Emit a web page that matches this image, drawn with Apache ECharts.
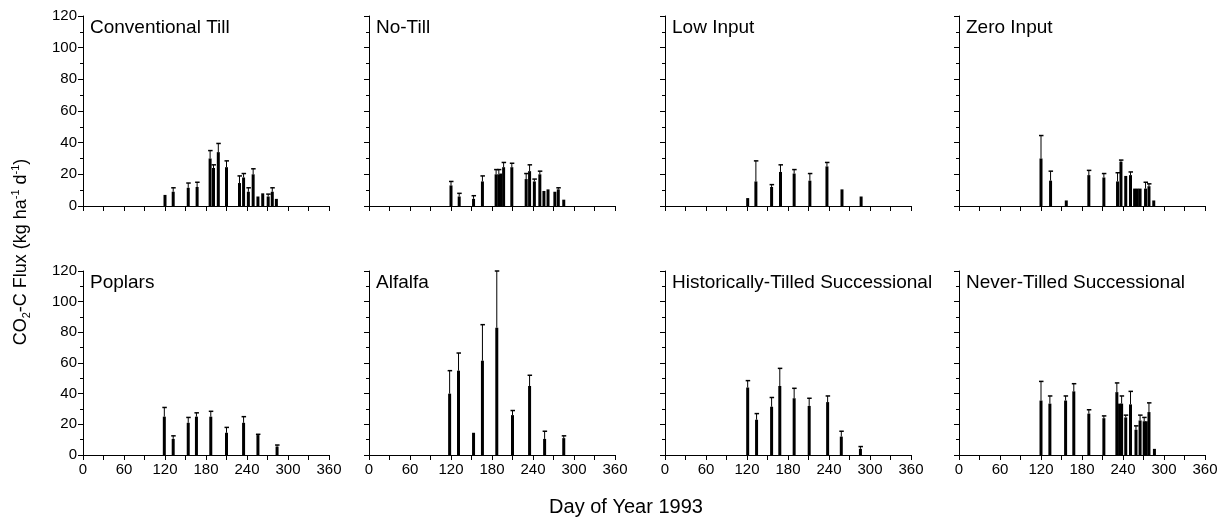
<!DOCTYPE html>
<html>
<head>
    <meta charset="utf-8">
    <script src="https://cdn.jsdelivr.net/npm/echarts@6.0.0/dist/echarts.min.js"></script>
</head>
<body style="margin:0">
    <div id="main" style="width: 1230px;height:519px;"></div>
    <script type="text/javascript">
        var myChart = echarts.init(document.getElementById('main'));

        // 面板标题
        var panelNames = ['Conventional Till', 'No-Till', 'Low Input', 'Zero Input',
            'Poplars', 'Alfalfa', 'Historically-Tilled Successional', 'Never-Tilled Successional'];

        // 每个面板：日期、通量均值、误差线上端 (null = 无误差线)
        var ctDays = [120, 132, 154, 167, 186, 191, 198, 210, 229, 235, 242, 249, 256, 263, 271, 277, 283];
        var ctFlux = [7, 9, 11.5, 12, 30, 24, 34, 24.5, 14.5, 18, 9, 20, 6, 8, 6, 9, 4.5];
        var ctErr  = [null, 11.5, 14.5, 15, 35, 26, 39.5, 28.5, 19, 20.5, 11.5, 23.5, null, null, 7.5, 11.5, null];

        var ntDays = [120, 132, 153, 166, 186, 190, 193, 197, 209, 230, 235, 242, 250, 256, 262, 272, 277, 285];
        var ntFlux = [13, 6, 4.5, 15.5, 20, 20, 20.5, 24.5, 24.5, 17, 22, 15.5, 20, 9.5, 10.5, 9, 10.5, 4];
        var ntErr  = [15.5, 8, 6.5, 19, 23, 23, null, 27.5, 27, 20.5, 26, 17, 22, null, null, null, 11.5, null];

        var liDays = [121, 133, 156, 169, 189, 212, 237, 259, 287];
        var liFlux = [5, 15.5, 12, 21.5, 20.5, 16, 25, 10.5, 6];
        var liErr  = [null, 28.5, 13.5, 26, 23, 20.5, 27.5, null, null];

        var ziDays = [120, 134, 157, 190, 212, 232, 237, 244, 251, 257, 261, 265, 273, 278, 285];
        var ziFlux = [30, 16, 3.5, 19.5, 18, 15.5, 28, 19, 19.5, 11, 11, 11, 11, 12.5, 3.5];
        var ziErr  = [44.5, 22, null, 22.5, 20.5, 21, 29, null, 21.5, null, null, null, 15, 14, null];

        var poDays = [119, 132, 154, 166, 187, 210, 235, 256, 284];
        var poFlux = [25, 10.5, 21, 25, 25, 14.5, 21, 13, 5.5];
        var poErr  = [31, 12.5, 24.5, 27.5, 28.5, 18, 25, 13.5, 6.5];

        var alDays = [118, 131, 153, 166, 187, 210, 235, 257, 285];
        var alFlux = [40, 55, 14.5, 61.5, 83, 26, 45, 10.5, 11];
        var alErr  = [55, 66.5, null, 85, 120, 29, 52, 15.5, 12.5];

        var htDays = [121, 134, 156, 168, 189, 211, 238, 258, 286];
        var htFlux = [44, 23, 31.5, 45, 37, 32, 34.5, 12, 4];
        var htErr  = [48.5, 27, 37.5, 56.5, 43.5, 37, 38.5, 15.5, 5.5];

        var nvDays = [120, 133, 156, 168, 190, 212, 231, 235, 238, 244, 251, 259, 265, 271, 274, 278, 286];
        var nvFlux = [35.5, 33.5, 35.5, 41.5, 27, 24, 41, 33.5, 33.5, 24.5, 33, 16.5, 22.5, 22, 22, 28, 4];
        var nvErr  = [48, 38.5, 38.5, 46.5, 29.5, 25.5, 47, null, 38.5, 26, 41.5, 19, 26, 24.5, null, 34, null];

        var yTicks = [0, 20, 40, 60, 80, 100, 120];
        var xTicks = [0, 60, 120, 180, 240, 300, 360];

        var panelDays = [ctDays, ntDays, liDays, ziDays, poDays, alDays, htDays, nvDays];
        var panelFlux = [ctFlux, ntFlux, liFlux, ziFlux, poFlux, alFlux, htFlux, nvFlux];
        var panelErr  = [ctErr, ntErr, liErr, ziErr, poErr, alErr, htErr, nvErr];

        var font = "'Liberation Sans', Arial, sans-serif";
        var lefts = [83, 369, 665, 959];
        var tops = [16, 271];
        var heights = [190, 184];

        var grid = [], xAxis = [], yAxis = [], series = [], title = [];
        for (var i = 0; i < 8; i++) {
            var col = i % 4, row = Math.floor(i / 4);
            grid.push({ left: lefts[col], top: tops[row], width: 246, height: heights[row] });
            title.push({
                text: panelNames[i], left: lefts[col] + 2, top: tops[row] - 3,
                textStyle: { fontFamily: font, fontSize: 19, fontWeight: 'normal', color: '#000' }
            });
            xAxis.push({
                type: 'value', gridIndex: i, min: xTicks[0], max: xTicks[xTicks.length - 1], interval: 60,
                axisLine: { onZero: false, lineStyle: { color: '#000', width: 1 } },
                axisTick: { length: 5, lineStyle: { color: '#000' } },
                minorTick: { show: true, splitNumber: 2, length: 5, lineStyle: { color: '#000' } },
                splitLine: { show: false },
                axisLabel: { show: row === 1, color: '#000', fontFamily: font, fontSize: 15, margin: 7 }
            });
            yAxis.push({
                type: 'value', gridIndex: i, min: yTicks[0], max: yTicks[yTicks.length - 1], interval: 20,
                axisLine: { show: true, lineStyle: { color: '#000', width: 1 } },
                axisTick: { length: 5, lineStyle: { color: '#000' } },
                minorTick: { show: true, splitNumber: 2, length: 3, lineStyle: { color: '#000' } },
                splitLine: { show: false },
                axisLabel: { show: col === 0, color: '#000', fontFamily: font, fontSize: 15, margin: 6 }
            });
            var bars = [], errs = [];
            for (var j = 0; j < panelDays[i].length; j++) {
                bars.push([panelDays[i][j], panelFlux[i][j]]);
                if (panelErr[i][j] != null) errs.push([panelDays[i][j], panelFlux[i][j], panelErr[i][j]]);
            }
            series.push({
                type: 'bar', xAxisIndex: i, yAxisIndex: i, data: bars, barWidth: 3,
                itemStyle: { color: '#000' }, silent: true, z: 2
            });
            series.push({
                type: 'custom', xAxisIndex: i, yAxisIndex: i, data: errs, silent: true, z: 3,
                renderItem: function (params, api) {
                    var p0 = api.coord([api.value(0), api.value(1)]);
                    var p1 = api.coord([api.value(0), api.value(2)]);
                    var st = { stroke: '#000', lineWidth: 1 };
                    return {
                        type: 'group', children: [
                            { type: 'line', shape: { x1: p0[0], y1: p0[1], x2: p1[0], y2: p1[1] }, style: st },
                            { type: 'line', shape: { x1: p1[0] - 2, y1: p1[1], x2: p1[0] + 2.5, y2: p1[1] }, style: { stroke: '#000', lineWidth: 1.5 } }
                        ]
                    };
                }
            });
        }

        var option = {
            animation: false,
            backgroundColor: '#fff',
            title: title,
            grid: grid,
            xAxis: xAxis,
            yAxis: yAxis,
            series: series,
            graphic: [
                {   // y 轴标题
                    type: 'text', x: 21, y: 252, rotation: Math.PI / 2,
                    style: {
                        text: 'CO{sub|2}-C Flux (kg ha{sup|-1} d{sup|-1})',
                        fontFamily: font, fontSize: 18, fill: '#000',
                        align: 'center', verticalAlign: 'middle', lineHeight: 22,
                        rich: {
                            sub: { fontSize: 11, fontFamily: font, lineHeight: 11, verticalAlign: 'bottom', fill: '#000' },
                            sup: { fontSize: 11, fontFamily: font, lineHeight: 11, verticalAlign: 'top', fill: '#000' }
                        }
                    }
                },
                {   // x 轴标题
                    type: 'text', x: 626, y: 507,
                    style: {
                        text: 'Day of Year 1993', fontFamily: font, fontSize: 20, fill: '#000',
                        align: 'center', verticalAlign: 'middle'
                    }
                }
            ]
        };
        myChart.setOption(option);
    </script>
</body>
</html>
